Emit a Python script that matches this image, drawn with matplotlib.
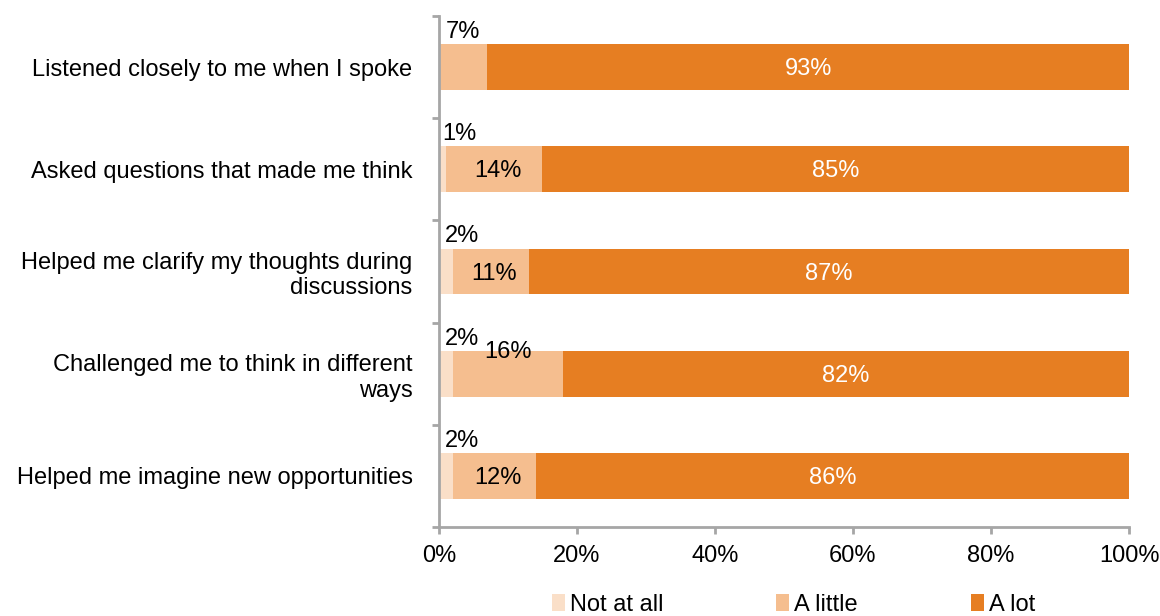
import matplotlib
matplotlib.use("Agg")
import matplotlib.pyplot as plt
from matplotlib.patches import Patch
import numpy as np

plt.rcParams['font.family'] = ['Liberation Sans', 'DejaVu Sans']

categories = [
    "Listened closely to me when I spoke",
    "Asked questions that made me think",
    "Helped me clarify my thoughts during\ndiscussions",
    "Challenged me to think in different\nways",
    "Helped me imagine new opportunities",
]
not_at_all = [0, 1, 2, 2, 2]
a_little = [7, 14, 11, 16, 12]
a_lot = [93, 85, 87, 82, 86]
series_names = ["Not at all", "A little", "A lot"]
colors = ["#FADFC8", "#F5BE8F", "#E67E22"]
xticks = [0, 20, 40, 60, 80, 100]

fig = plt.figure(figsize=(11.6, 6.16), dpi=100)
ax = fig.add_axes([0.3784, 0.1445, 0.5949, 0.8295])

y = np.arange(len(categories))
h = 0.45
lefts = np.zeros(len(categories))
for vals, col in zip([not_at_all, a_little, a_lot], colors):
    ax.barh(y, vals, left=lefts, height=h, color=col, edgecolor='none')
    lefts = lefts + np.array(vals)

fs = 17
for i in range(len(categories)):
    na, al, lot = not_at_all[i], a_little[i], a_lot[i]
    # small "Not at all" shares sit above the bar
    if na > 0:
        ax.text(na / 2 + 2.4, y[i] - h / 2 - 0.01, f"{na}%", ha='center', va='bottom',
                fontsize=fs, color='black')
    # "A little" shares: above the bar if too narrow, otherwise inside
    cx = na + al / 2
    if al < 10:
        ax.text(cx, y[i] - h / 2 - 0.01, f"{al}%", ha='center', va='bottom',
                fontsize=fs, color='black')
    elif al >= 16:
        ax.text(cx, y[i] - h / 2 + 0.01, f"{al}%", ha='center', va='center',
                fontsize=fs, color='black')
    else:
        ax.text(cx + 0.5, y[i] + 0.02, f"{al}%", ha='center', va='center',
                fontsize=fs, color='black')
    ax.text(na + al + lot / 2, y[i] + 0.02, f"{lot}%", ha='center', va='center',
            fontsize=fs, color='white')

ax.set_xlim(0, 100)
ax.set_ylim(len(categories) - 0.5, -0.5)
ax.set_xticks(xticks)
ax.set_xticklabels([f"{t}%" for t in xticks], fontsize=fs)

# category labels, with tick marks drawn between categories
ax.set_yticks(y)
ax.set_yticklabels(categories, fontsize=fs, ha='right', multialignment='right',
                   linespacing=1.2)
ax.tick_params(axis='y', length=0, pad=19)
ax.set_yticks(np.arange(-0.5, len(categories)), minor=True)
ax.tick_params(axis='y', which='minor', length=5, width=2, color='#A6A6A6', direction='out')
ax.tick_params(axis='x', length=5, width=2, color='#A6A6A6', direction='out', pad=8)

for s in ['top', 'right']:
    ax.spines[s].set_visible(False)
for s in ['left', 'bottom']:
    ax.spines[s].set_color('#A6A6A6')
    ax.spines[s].set_linewidth(2)

handles = [Patch(facecolor=c, edgecolor='none') for c in colors]
fig.legend(handles, series_names, loc='center', bbox_to_anchor=(0.684, 0.018),
           ncol=3, frameon=False, fontsize=fs, handlelength=0.55, handleheight=0.7,
           handletextpad=0.2, columnspacing=4.8, borderpad=0)

fig.savefig("out.png", dpi=100)
